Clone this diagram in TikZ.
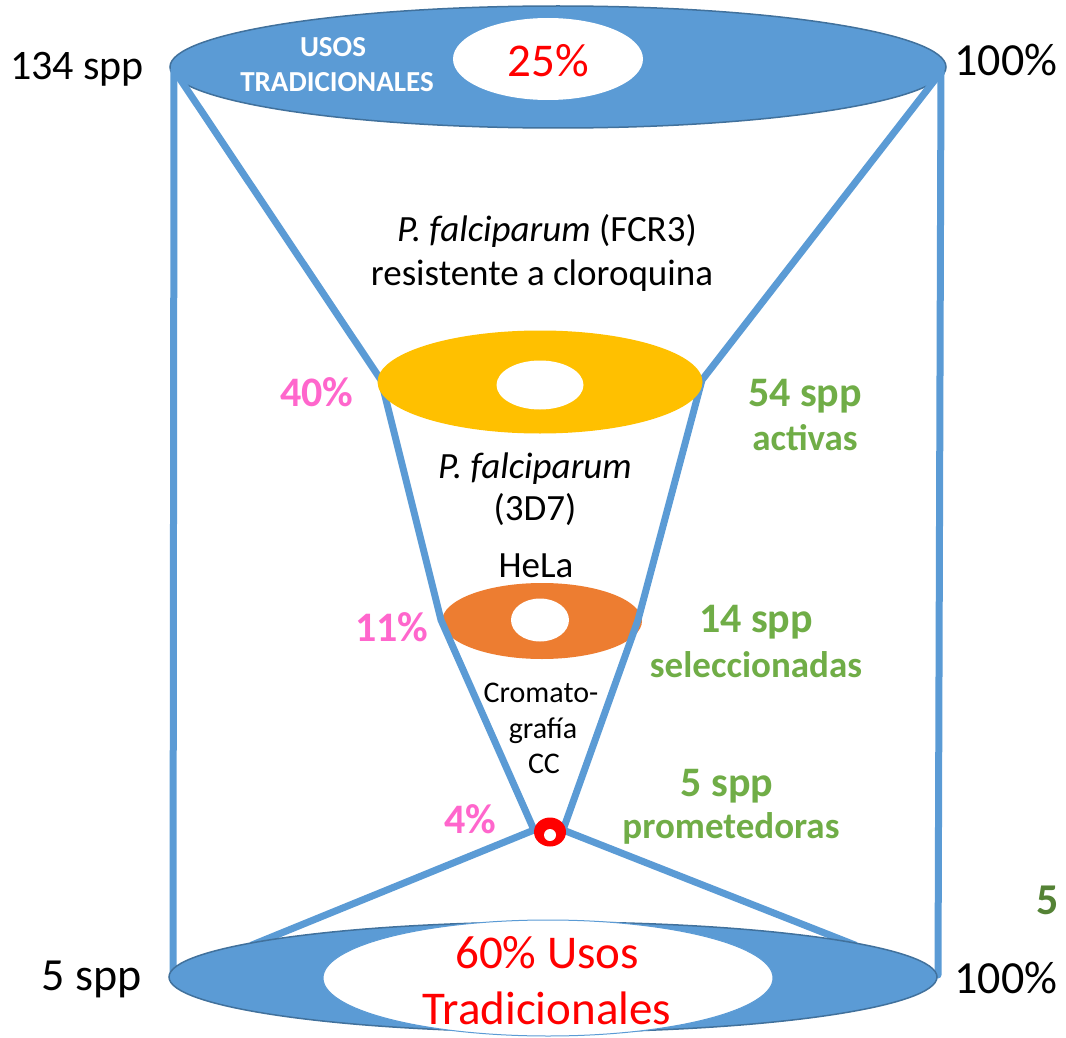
\documentclass[tikz,border=0pt]{standalone}
\usepackage{fontspec}
\setmainfont{Carlito}
\usetikzlibrary{shapes.geometric}
\definecolor{cylblue}{HTML}{5B9BD5}
\definecolor{cyledge}{HTML}{41719C}
\definecolor{ringyellow}{HTML}{FFC000}
\definecolor{ringorange}{HTML}{ED7D31}
\definecolor{pctpink}{HTML}{FF66CC}
\definecolor{sppgreen}{HTML}{70AD47}
\definecolor{darkgreen}{HTML}{548235}

\begin{document}
\begin{tikzpicture}[x=1pt,y=-1pt,
  funnel/.style={draw=cylblue, line width=7pt, line join=round, line cap=round},
  disk/.style={ellipse, inner sep=0pt, outer sep=0pt},
  lbl/.style={inner sep=0pt, anchor=base, align=center},
  bigtxt/.style={lbl, font=\fontsize{42}{48}\selectfont},
  hugetxt/.style={lbl, font=\fontsize{46}{52}\selectfont},
  midtxt/.style={lbl, font=\fontsize{37}{44}\selectfont},
  smalltxt/.style={lbl, font=\fontsize{30}{36}\selectfont},
  pinktxt/.style={lbl, text=pctpink, font=\bfseries\fontsize{42}{48}\selectfont},
  greenbig/.style={lbl, text=sppgreen, font=\bfseries\fontsize{42}{48}\selectfont},
  greentxt/.style={lbl, text=sppgreen, font=\bfseries\fontsize{37}{47}\selectfont},
  redtxt/.style={lbl, text=red, font=\fontsize{47}{56}\selectfont}
]
\useasboundingbox (0,0) rectangle (1066,1038);

% top disk of the cylinder
\node[disk, fill=cylblue, draw=cyledge, line width=1.5pt,
      minimum width=776pt, minimum height=122pt] (topdisk) at (558,67) {};
\node[disk, fill=white, minimum width=190pt, minimum height=82pt] (tophole) at (548,59) {};

% orange ring (drawn under the funnel lines)
\node[disk, fill=ringorange, minimum width=200pt, minimum height=76pt] (oring) at (542,621) {};
\node[disk, fill=white, minimum width=58pt, minimum height=43pt] (ohole) at (540,620) {};

% key points of the funnel
\coordinate (tl) at (174,70);
\coordinate (tr) at (941,72);
\coordinate (yl) at (381,380);
\coordinate (yr) at (702,380);
\coordinate (ol) at (441,620);
\coordinate (or) at (638,620);
\coordinate (tipl) at (534,830);
\coordinate (tipr) at (563,830);
\coordinate (bl) at (173,975);
\coordinate (br) at (938,975);
\coordinate (bdl) at (252,945);
\coordinate (bdr) at (855,945);

% lower cone and cylinder walls
\draw[funnel] (tipl) -- (bdl);
\draw[funnel] (tipr) -- (bdr);
\draw[funnel] (tl) -- (bl);
\draw[funnel] (tr) -- (br);

% upper funnel
\draw[funnel] (tl) -- (yl) -- (ol) -- (tipl);
\draw[funnel] (tr) -- (yr) -- (or) -- (tipr);

% yellow ring
\node[disk, fill=ringyellow, minimum width=325pt, minimum height=103pt] (yring) at (540,382) {};
\node[disk, fill=white, minimum width=87pt, minimum height=49pt] (yhole) at (540,385) {};

% red ring at the narrow end
\node[disk, fill=red, minimum width=32pt, minimum height=29pt] (rring) at (550,832) {};
\node[circle, fill=white, inner sep=0pt, minimum size=12pt] (rhole) at (550,835) {};

% bottom disk of the cylinder
\node[disk, fill=cylblue, draw=cyledge, line width=1.5pt,
      minimum width=768pt, minimum height=110pt] (botdisk) at (553,977) {};
\node[disk, fill=white, draw=cylblue, line width=1pt,
      minimum width=450pt, minimum height=116pt] (bothole) at (548,978) {};

% labels
\node[bigtxt] (t134) at (77,80) {134 spp};
\node[hugetxt] (t100a) at (1006,76) {100\%};
\node[lbl, text=red, font=\fontsize{47}{52}\selectfont] (t25) at (548,77) {25\%};
\node[lbl, text=white, font=\bfseries\fontsize{29}{33}\selectfont] (tusos) at (333,57) {USOS};
\node[lbl, text=white, font=\bfseries\fontsize{29}{33}\selectfont] (ttrad) at (337,92) {TRADICIONALES};

\node[midtxt] (tfcr) at (547,241) {\textit{P. falciparum} (FCR3)};
\node[midtxt] (tres) at (542,285) {resistente a cloroquina};

\node[pinktxt] (t40) at (317,406) {40\%};
\node[greenbig] (t54) at (805,406) {54 spp};
\node[greentxt] (tact) at (805,450) {activas};

\node[midtxt] (tpf) at (535,478) {\textit{P. falciparum}};
\node[midtxt] (t3d7) at (535,520) {(3D7)};
\node[midtxt] (thela) at (536,577) {HeLa};

\node[pinktxt] (t11) at (392,641) {11\%};
\node[greenbig] (t14) at (756,632) {14 spp};
\node[greentxt] (tsel) at (756,677) {seleccionadas};

\node[smalltxt] (tcrom) at (541,702) {Cromato-};
\node[smalltxt] (tgraf) at (543,738) {grafía};
\node[smalltxt] (tcc) at (544,773) {CC};

\node[pinktxt] (t4) at (470,833) {4\%};
\node[greenbig] (t5spp) at (727,796) {5 spp};
\node[greentxt] (tprom) at (731,838) {prometedoras};

\node[lbl, text=darkgreen, font=\bfseries\fontsize{44}{48}\selectfont] (t5) at (1048,914) {5};
\node[hugetxt] (t5b) at (92,990) {5 spp};
\node[hugetxt] (t100b) at (1006,993) {100\%};

\node[redtxt] (t60) at (547,968) {60\% Usos};
\node[redtxt] (ttradb) at (547,1024) {Tradicionales};
\end{tikzpicture}
\end{document}
